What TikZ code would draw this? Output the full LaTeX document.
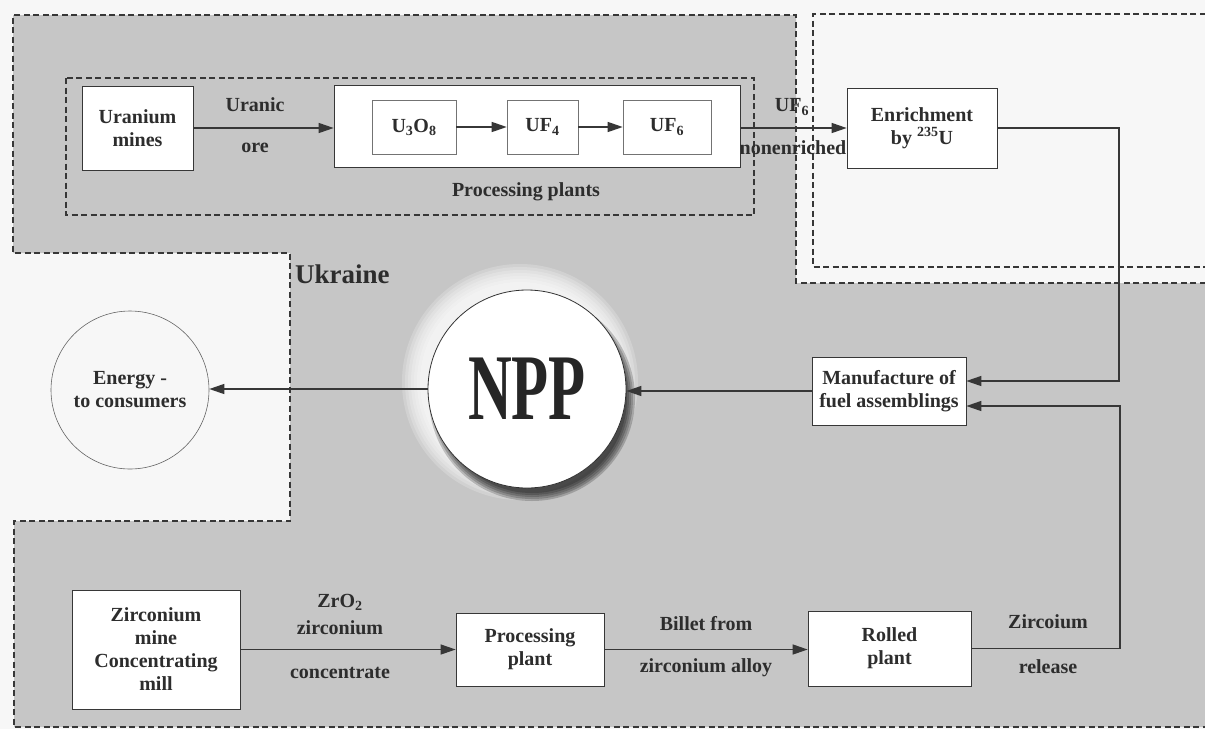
\documentclass[tikz,border=0pt]{standalone}
\usepackage{fontspec}
\setmainfont{Liberation Serif}
\usepackage{graphicx}
\usetikzlibrary{arrows.meta,calc}
\definecolor{paper}{RGB}{247,247,247}
\definecolor{region}{RGB}{198,198,198}
\definecolor{ink}{RGB}{45,45,45}
\definecolor{rule}{RGB}{55,55,55}
\tikzset{
  lbl/.style={font=\fontsize{20}{23}\selectfont\bfseries, text=ink, align=center, inner sep=0pt},
  box/.style={lbl, draw=rule, line width=0.7pt, fill=white},
  subbox/.style={lbl, draw=black!55, line width=0.6pt, fill=white, minimum height=54},
  flow/.style={draw=rule, line width=1.3pt, -{Triangle[length=15pt,width=10pt]}},
  border/.style={draw=rule, line width=1.1pt, dash pattern=on 6pt off 3.5pt},
}
\begin{document}
\begin{tikzpicture}[x=1pt,y=-1pt]
\useasboundingbox (0,0) rectangle (1205,729);
\clip (0,0) rectangle (1205,729);
\fill[paper] (0,0) rectangle (1205,729);

% territory of Ukraine (shaded) and its dashed border
\fill[region] (13,15) -- (796,15) -- (796,283) -- (1215,283) -- (1215,727)
  -- (14,727) -- (14,521) -- (290,521) -- (290,253) -- (13,253) -- cycle;
\draw[border] (1215,283) -- (796,283) -- (796,15) -- (13,15) -- (13,253)
  -- (290,253) -- (290,521) -- (14,521) -- (14,727) -- (1215,727);
% enrichment abroad
\draw[border] (1215,14) -- (813,14) -- (813,267) -- (1215,267);
% uranium processing group
\draw[border] (66,78) rectangle (754,215);

\node[font=\fontsize{27}{30}\selectfont\bfseries, text=ink, anchor=base west, inner sep=0pt]
  (ukraine) at (295,283) {Ukraine};

% ---- uranium chain ----
\node[box, minimum width=111, minimum height=84] (mines) at (137.5,128) {Uranium\\mines};
\node[box, minimum width=406, minimum height=82] (proc) at (537,126) {};
\node[subbox, minimum width=84] (u3o8) at (414,127) {U\textsubscript{3}O\textsubscript{8}};
\node[subbox, minimum width=71] (uf4) at (542.5,127) {UF\textsubscript{4}};
\node[subbox, minimum width=88] (uf6) at (667,127) {UF\textsubscript{6}};
\node[lbl] (proclbl) at (526,192) {Processing plants};
\node[box, minimum width=150, minimum height=80] (enrich) at (922,128) {Enrichment\\by \textsuperscript{235}U};

\node[lbl] (uranic) at (255,105) {Uranic};
\node[lbl] (ore) at (255,148) {ore};
\node[lbl] (uf6lbl) at (792,107) {UF\textsubscript{6}};
\node[lbl] (nonenr) at (793,148) {nonenriched};

\draw[flow] (mines.east) -- (mines.east -| proc.west);
\draw[flow] (u3o8) -- (uf4);
\draw[flow] (uf4) -- (uf6);
\draw[flow] (proc.east |- enrich.west) -- (enrich.west);

% ---- fuel assemblies and NPP ----
\node[box, minimum width=154, minimum height=68] (manuf) at (889,391) {Manufacture of\\fuel assemblings};

\coordinate (nppc) at (527,389);
% soft light halo and cast shadow of the NPP disc
\foreach \r in {100,103,...,118}
  \fill[white, opacity=0.2] ($(nppc)+(-7,-7)$) circle (\r);
\foreach \r in {95,97,99,101,103}
  \fill[black, opacity=0.2] ($(nppc)+(5,9)$) circle (\r);
\node[circle, draw=black!80, line width=0.8pt, fill=white, minimum size=198, inner sep=0pt,
  font=\fontsize{94}{94}\selectfont\bfseries, text=black!85] (npp) at (nppc) {\scalebox{0.645}[1]{NPP}};

\node[lbl, circle, draw=black!60, line width=0.6pt, minimum size=158] (energy) at (130,390)
  {Energy -\\to consumers};

\coordinate (j1) at (1119,381);
\coordinate (j2) at (1120,406);
\draw[flow] (enrich.east) -| (j1) -- (j1 -| manuf.east);
\draw[flow] (manuf.west) -- (manuf.west -| npp.east);
\draw[flow] (npp.west) -- (npp.west -| energy.east);

% ---- zirconium chain ----
\node[box, minimum width=168, minimum height=119] (zmine) at (156,649.5)
  {Zirconium\\mine\\Concentrating\\mill};
\node[box, minimum width=148, minimum height=73] (zproc) at (530,649.5) {Processing\\plant};
\node[box, minimum width=163, minimum height=75] (rolled) at (889.5,648.5) {Rolled\\plant};

\node[lbl] (zro2) at (340,602) {ZrO\textsubscript{2}};
\node[lbl] (zirc) at (340,628) {zirconium};
\node[lbl] (conc) at (340,673) {concentrate};
\node[lbl] (billet) at (706,624) {Billet from};
\node[lbl] (alloy) at (706,668) {zirconium alloy};
\node[lbl] (zrel) at (1048,622) {Zircoium};
\node[lbl] (rel) at (1048,667) {release};

\draw[flow] (zmine.east) -- (zmine.east -| zproc.west);
\draw[flow] (zproc.east) -- (zproc.east -| rolled.west);
\draw[flow] (rolled.east) -| (j2) -- (j2 -| manuf.east);
\end{tikzpicture}
\end{document}
